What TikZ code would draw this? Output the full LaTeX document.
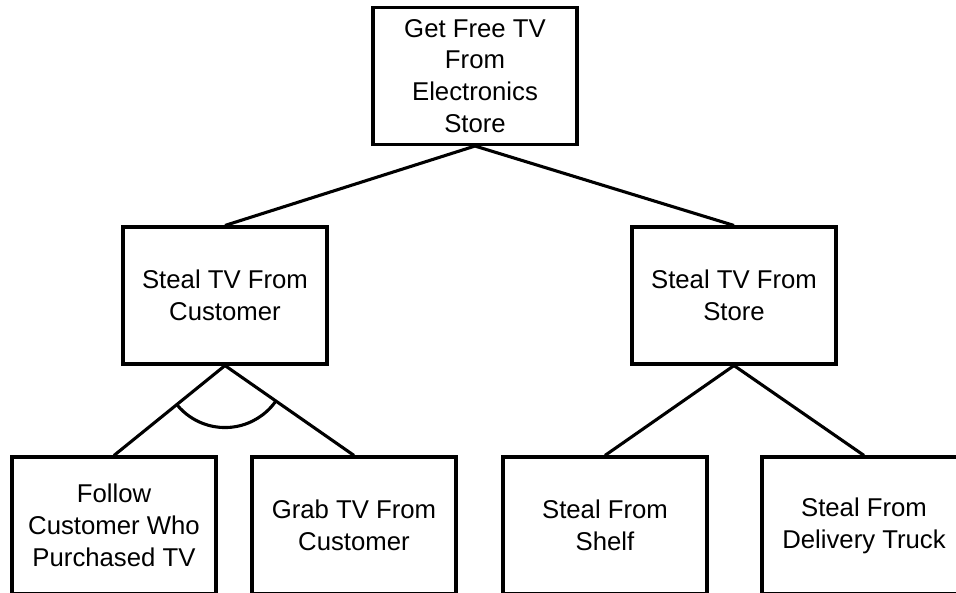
\documentclass[tikz,border=0pt]{standalone}
\usepackage{fontspec}
\setmainfont{Liberation Sans}
\begin{document}
\begin{tikzpicture}[goal/.style={shape=rectangle, draw, line width=2.2pt, inner sep=0, minimum width=5.1cm, minimum height=3.425cm, align=center, font=\fontsize{18.3}{22.6}\selectfont}, wire/.style={line width=2.2pt}]
          \useasboundingbox (0, 0) rectangle (23.9, 14.8);
          % Paths, nodes and wires:
          \node[goal] (tv) at (11.875, 12.9) {Get Free TV\\From\\Electronics\\Store};
          \node[goal] (cust) at (5.625, 7.4125) {Steal TV From\\Customer};
          \node[goal] (store) at (18.35, 7.4125) {Steal TV From\\Store};
          \node[goal] (follow) at (2.85, 1.6625) {Follow\\Customer Who\\Purchased TV};
          \node[goal] (grab) at (8.85, 1.6625) {Grab TV From\\Customer};
          \node[goal] (shelf) at (15.125, 1.6625) {Steal From\\Shelf};
          \node[goal] (truck) at (21.6, 1.6625) {Steal From\\Delivery Truck};
          \draw[wire] (tv.south) -- (cust.north);
          \draw[wire] (tv.south) -- (store.north);
          \draw[wire] (cust.south) -- (follow.north);
          \draw[wire] (cust.south) -- (grab.north);
          \draw[wire] (store.south) -- (shelf.north);
          \draw[wire] (store.south) -- (truck.north);
          % AND arc
          \draw[wire] ([shift={(219.96:1.55)}]cust.south) arc[start angle=219.96, end angle=324.2, radius=1.55];
        \end{tikzpicture}
\end{document}
